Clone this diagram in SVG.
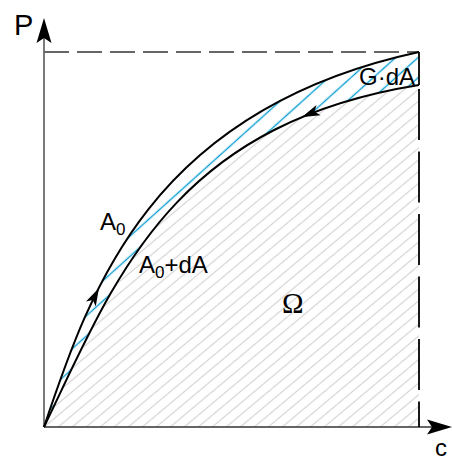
<svg xmlns="http://www.w3.org/2000/svg" width="452" height="462" viewBox="0 0 452 462">
<style>
.curve{fill:none;stroke:#000;stroke-width:2}
.axis{fill:none;stroke:#333;stroke-width:1.3}
.lbl{font-family:"Liberation Sans",Arial,sans-serif;fill:#000}
</style>
<defs>
<pattern id="gray" patternUnits="userSpaceOnUse" width="20" height="9" patternTransform="rotate(-40)">
<line x1="-5" y1="4.5" x2="25" y2="4.5" stroke="#d4d4d4" stroke-width="1.2"/>
</pattern>
<pattern id="blue" patternUnits="userSpaceOnUse" width="20" height="15" patternTransform="rotate(-42)">
<line x1="-5" y1="7.5" x2="25" y2="7.5" stroke="#0a9ed2" stroke-width="1.4"/>
</pattern>
</defs>
<g id="regions">
<path id="omega-area" d="M44,427 C115,280 170,125 419,85 L419,427 Z" fill="url(#gray)"/>
<path id="gda-area" d="M44,427 C90,290 150,110 419,52 L419,85 C170,125 115,280 44,427 Z" fill="url(#blue)"/>
</g>
<g id="axes">
<line class="axis" x1="44" y1="427" x2="44" y2="36"/>
<line class="axis" x1="44" y1="427" x2="432" y2="427"/>
<polygon points="44,18 51.5,43 44,38 36.5,43" fill="#000"/>
<polygon points="452,427 427,419.5 432,427 427,434.5" fill="#000"/>
<line x1="44" y1="52" x2="419" y2="52" stroke="#666" stroke-width="2" stroke-dasharray="25 8"/>
<line x1="419" y1="52" x2="419" y2="85" stroke="#000" stroke-width="1.8"/>
<line x1="419" y1="89" x2="419" y2="427" stroke="#000" stroke-width="1.8" stroke-dasharray="51 11.5"/>
</g>
<g id="connectors">
<path id="A0" class="curve" d="M44,427 C90,290 150,110 419,52"/>
<path id="A0dA" class="curve" d="M44,427 C115,280 170,125 419,85"/>
<polygon points="0,0 -18,-5.5 -13.5,0 -18,5.5" fill="#000" transform="translate(99,288) rotate(-63)"/>
<polygon points="0,0 -18,-5.5 -13.5,0 -18,5.5" fill="#000" transform="translate(302,117) rotate(157.4)"/>
</g>
<g id="labels">
<text class="lbl" x="14" y="35" font-size="29">P</text>
<text class="lbl" x="435" y="456" font-size="24">c</text>
<text class="lbl" x="100" y="230" font-size="24">A<tspan font-size="17" dy="5">0</tspan></text>
<text class="lbl" x="139" y="273" font-size="24">A<tspan font-size="17" dy="5">0</tspan><tspan dy="-5">+dA</tspan></text>
<text class="lbl" x="359" y="85" font-size="24">G·dA</text>
<text x="282" y="313" font-family="'Liberation Serif','Times New Roman',serif" font-size="29" fill="#000">Ω</text>
</g>
</svg>
